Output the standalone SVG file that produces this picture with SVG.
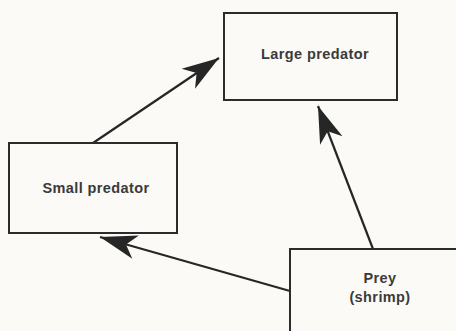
<svg xmlns="http://www.w3.org/2000/svg" width="456" height="331" viewBox="0 0 456 331">
<style>
.box{fill:none;stroke:#2b2b2b;stroke-width:2}
.lbl{font-family:"Liberation Sans",Arial,sans-serif;font-size:14.5px;font-weight:bold;fill:#3a3a3a;text-anchor:middle;letter-spacing:0.4px}
.edge{fill:none;stroke:#262626;stroke-width:2.2}
</style>
<defs>
<marker id="ah" markerUnits="userSpaceOnUse" markerWidth="40" markerHeight="30" viewBox="-38 -15 40 30" refX="0" refY="0" orient="auto">
<path d="M0,0 L-37,-12 L-27,0 L-37,12 Z" fill="#262626"/>
</marker>
</defs>
<rect width="456" height="331" fill="#fbfaf6"/>
<g id="connectors">
<line class="edge" x1="93" y1="143" x2="219" y2="58" marker-end="url(#ah)"/>
<line class="edge" x1="373" y1="249" x2="318" y2="106" marker-end="url(#ah)"/>
<line class="edge" x1="290" y1="291" x2="100" y2="237" marker-end="url(#ah)"/>
</g>
<g id="large-predator">
<rect class="box" x="224" y="13" width="173" height="87"/>
<text class="lbl" x="315" y="59">Large predator</text>
</g>
<g id="small-predator">
<rect class="box" x="9" y="143" width="168" height="90"/>
<text class="lbl" x="96" y="193">Small predator</text>
</g>
<g id="prey">
<rect class="box" x="290" y="249" width="180" height="100"/>
<text class="lbl" x="380" y="283">Prey</text>
<text class="lbl" x="380" y="302">(shrimp)</text>
</g>
</svg>
